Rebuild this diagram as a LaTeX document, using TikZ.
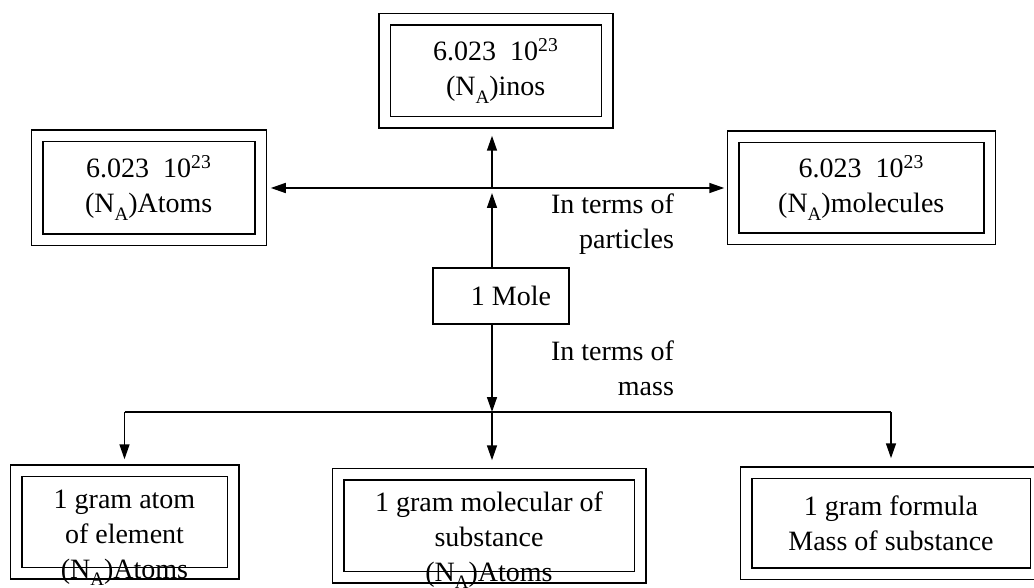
\documentclass[tikz,border=0pt]{standalone}
\usepackage{fontspec}
\setmainfont{Liberation Serif}
\usetikzlibrary{arrows.meta}
\newcommand{\NA}{N\raisebox{-0.55ex}{\fontsize{19}{19}\selectfont A}}

\begin{document}
\begin{tikzpicture}[x=1pt,y=-1pt,line width=1.5pt,
    txt/.style={font=\fontsize{28}{35}\selectfont,align=center},
    dbox/.style={draw,double,double distance=10pt,txt},
    arr/.style={-{Triangle[length=15pt,width=10pt]}}]
  \useasboundingbox (0,0) rectangle (1034,588);
  % boxes
  \node[dbox,minimum width=222.5pt,minimum height=103pt] (inos) at (495.75,71) {6.023\ \ 10\textsuperscript{23}\\(\NA)inos};
  \node[dbox,minimum width=223.5pt,minimum height=104pt] (atoms) at (148.75,188) {6.023\ \ 10\textsuperscript{23}\\(\NA)Atoms};
  \node[dbox,minimum width=256.5pt,minimum height=102pt] (molecules) at (861.25,188) {6.023\ \ 10\textsuperscript{23}\\(\NA)molecules};
  \node[draw,txt,minimum width=136pt,minimum height=56pt] (mole) at (501,296) {\hspace*{20pt}1 Mole};
  \node[dbox,minimum width=217pt,minimum height=102.5pt] (atomg) at (124.5,521.75) {};
  \node[dbox,minimum width=302pt,minimum height=103pt] (molg) at (489,525.5) {};
  \node[dbox,minimum width=290pt,minimum height=101pt] (formula) at (891,523) {1 gram formula\\Mass of substance};
  \node[txt] (atomgtxt) at (124.5,538) {1 gram atom\\of element\\(\NA)Atoms};
  \node[txt] (molgtxt) at (489,540) {1 gram molecular of\\substance\\(\NA)Atoms};
  % labels
  \node[txt,align=right,anchor=east] (particles) at (678,224) {In terms of\\particles};
  \node[txt,align=right,anchor=east] (mass) at (678,368) {In terms of\\mass};
  \coordinate (hub) at (492,188);
  \coordinate (bus) at (492,412);
  % connectors
  \draw[{Triangle[length=15pt,width=10pt]}-{Triangle[length=15pt,width=10pt]},shorten <=9.5pt,shorten >=8pt] (atoms.east) -- (molecules.west);
  \draw[arr,shorten >=5pt] (mole.north -| hub) -- (hub);
  \draw[arr,shorten >=12.5pt] (hub) -- (hub |- inos.south);
  \draw[arr] (mole.south -| bus) -- (bus);
  \draw (atomg.north |- bus) -- (formula.north |- bus);
  \draw[arr,shorten >=10.5pt] (atomg.north |- bus) -- (atomg.north);
  \draw[arr,shorten >=13pt] (bus) -- (bus |- molg.north);
  \draw[arr,shorten >=13.5pt] (formula.north |- bus) -- (formula.north);
\end{tikzpicture}
\end{document}
